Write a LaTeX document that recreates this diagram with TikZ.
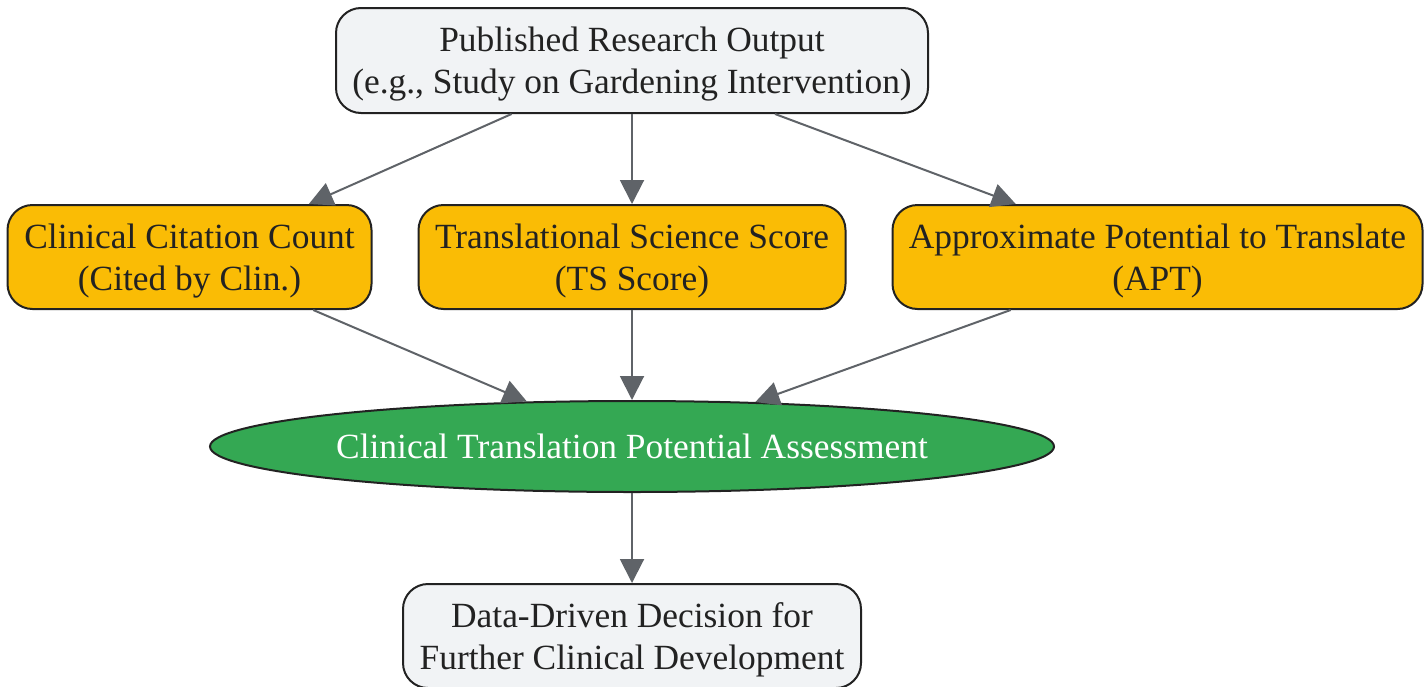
\documentclass[tikz,border=0pt]{standalone}
\usepackage{fontspec}
\setmainfont{Liberation Serif}
\usetikzlibrary{shapes.geometric, arrows.meta, positioning}
\definecolor{boxgray}{RGB}{241,243,245}
\definecolor{metricyellow}{RGB}{250,188,5}
\definecolor{assessgreen}{RGB}{52,168,83}
\definecolor{edgegray}{RGB}{95,99,104}
\definecolor{textdark}{RGB}{34,34,34}

\begin{document}
\begin{tikzpicture}[
    flowbox/.style={rectangle, draw=textdark, line width=1pt, rounded corners=12.5pt,
                 minimum height=52pt, align=center, text=textdark, inner xsep=8pt,
                 text depth=-1.5pt, font=\fontsize{17.7}{21}\selectfont},
    metricbox/.style={flowbox, fill=metricyellow},
    flowedge/.style={->, draw=edgegray, fill=edgegray, line width=1pt},
    node distance=45pt and 22.5pt,
    >={Triangle[length=12pt, width=12pt]}
]
    \useasboundingbox (0,0) rectangle (714pt,-343pt);

    \node[flowbox, fill=boxgray, minimum width=296pt, minimum height=52.5pt] (output) at (316pt,-30.25pt)
        {Published Research Output\\(e.g., Study on Gardening Intervention)};
    \node[metricbox, minimum width=213.5pt, below=of output] (tsscore)
        {Translational Science Score\\(TS Score)};
    \node[metricbox, minimum width=182pt, left=of tsscore] (clincount)
        {Clinical Citation Count\\(Cited by Clin.)};
    \node[metricbox, minimum width=265pt, right=of tsscore] (apt)
        {Approximate Potential to Translate\\(APT)};
    \node[ellipse, draw=textdark, line width=1pt, fill=assessgreen, text=white, inner sep=0pt,
          minimum width=422pt, minimum height=45.5pt, font=\fontsize{17.7}{21}\selectfont,
          below=of tsscore] (assess) {Clinical Translation Potential Assessment};
    \node[flowbox, fill=boxgray, minimum width=229pt, below=of assess] (decision)
        {Data-Driven Decision for\\Further Clinical Development};

    \draw[flowedge] (output) -- (clincount);
    \draw[flowedge] (output) -- (tsscore);
    \draw[flowedge] (output) -- (apt);
    \draw[flowedge] (clincount) -- (assess);
    \draw[flowedge] (tsscore) -- (assess);
    \draw[flowedge] (apt) -- (assess);
    \draw[flowedge] (assess) -- (decision);
\end{tikzpicture}
\end{document}
